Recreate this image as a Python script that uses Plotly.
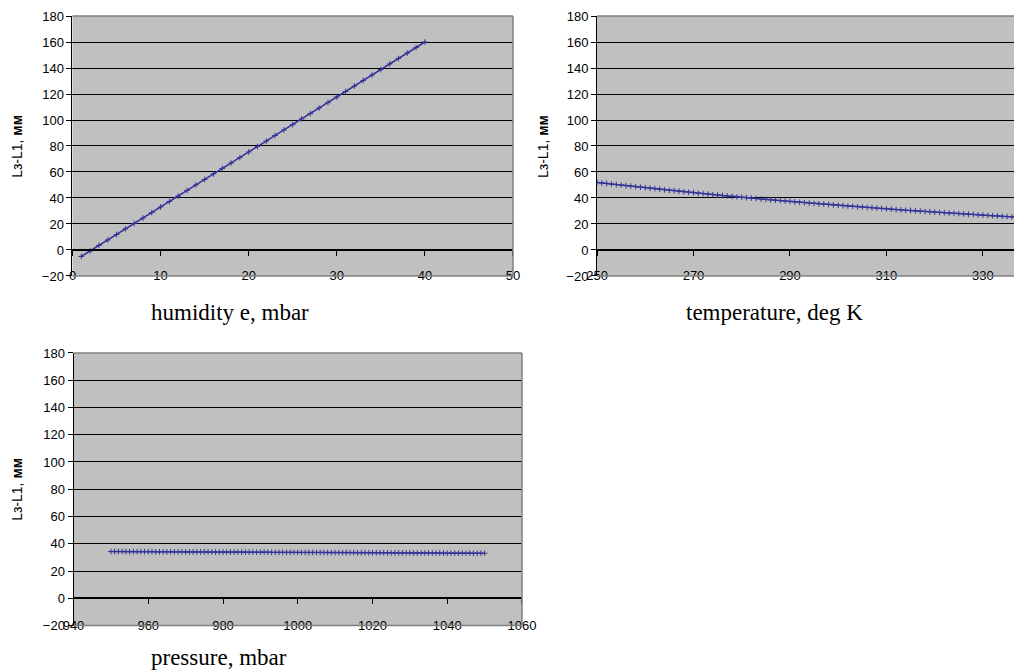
import plotly.graph_objects as go

# ---------------- data ----------------
humidity_e = list(range(1, 41))
humidity_l = [-5.0, -0.8, 3.5, 7.7, 11.9, 16.2, 20.4, 24.6, 28.8, 33.1,
              37.3, 41.5, 45.8, 50.0, 54.2, 58.5, 62.7, 66.9, 71.1, 75.4,
              79.6, 83.8, 88.1, 92.3, 96.5, 100.8, 105.0, 109.2, 113.4, 117.7,
              121.9, 126.1, 130.4, 134.6, 138.8, 143.1, 147.3, 151.5, 155.7, 160.0]

temperature_k = list(range(250, 339))
temperature_l = [52.0, 51.6, 51.2, 50.7, 50.3, 49.9, 49.5, 49.1, 48.7, 48.3,
                 47.9, 47.5, 47.1, 46.7, 46.3, 45.9, 45.6, 45.2, 44.8, 44.4,
                 44.1, 43.7, 43.4, 43.0, 42.6, 42.3, 41.9, 41.6, 41.3, 40.9,
                 40.6, 40.2, 39.9, 39.6, 39.2, 38.9, 38.6, 38.3, 38.0, 37.7,
                 37.4, 37.0, 36.7, 36.4, 36.1, 35.8, 35.5, 35.3, 35.0, 34.7,
                 34.4, 34.1, 33.8, 33.5, 33.3, 33.0, 32.7, 32.5, 32.2, 31.9,
                 31.7, 31.4, 31.1, 30.9, 30.6, 30.4, 30.1, 29.9, 29.6, 29.4,
                 29.1, 28.9, 28.7, 28.4, 28.2, 28.0, 27.7, 27.5, 27.3, 27.0,
                 26.8, 26.6, 26.4, 26.2, 25.9, 25.7, 25.5, 25.3, 25.1]

pressure_mbar = list(range(950, 1051))
pressure_l = [34.3, 34.3, 34.3, 34.3,
              34.2, 34.2, 34.2, 34.2, 34.2, 34.2, 34.2, 34.2,
              34.1, 34.1, 34.1, 34.1, 34.1, 34.1, 34.1, 34.1,
              34.0, 34.0, 34.0, 34.0, 34.0, 34.0, 34.0,
              33.9, 33.9, 33.9, 33.9, 33.9, 33.9, 33.9, 33.9,
              33.8, 33.8, 33.8, 33.8, 33.8, 33.8, 33.8, 33.8,
              33.7, 33.7, 33.7, 33.7, 33.7, 33.7, 33.7, 33.7,
              33.6, 33.6, 33.6, 33.6, 33.6, 33.6, 33.6,
              33.5, 33.5, 33.5, 33.5, 33.5, 33.5, 33.5, 33.5,
              33.4, 33.4, 33.4, 33.4, 33.4, 33.4, 33.4, 33.4,
              33.3, 33.3, 33.3, 33.3, 33.3, 33.3, 33.3,
              33.2, 33.2, 33.2, 33.2, 33.2, 33.2, 33.2, 33.2,
              33.1, 33.1, 33.1, 33.1, 33.1, 33.1, 33.1, 33.1,
              33.0, 33.0, 33.0, 33.0]

y_ticks = [-20, 0, 20, 40, 60, 80, 100, 120, 140, 160, 180]
x_titles = ["humidity e, mbar", "temperature, deg K", "pressure, mbar"]
y_title = "Lз-L1, <b>мм</b>"

# ---------------- styling / layout ----------------
LINE = "#333399"
BG = "#C0C0C0"
BORDER = "#808080"
TICKFONT = dict(family="Liberation Sans, Arial, sans-serif", size=13, color="black")
TITLEFONT = dict(family="Liberation Serif, Times New Roman, serif", size=23, color="black")
YTITLEFONT = dict(family="Liberation Sans, Arial, sans-serif", size=14, color="black")

# the page body has an 8px margin, so the figure is 1014x662 offset by 8px
W, H = 1014, 662

panels = [
    dict(x=humidity_e, y=humidity_l, dx=[0.0636, 0.4980], dy=[0.5952, 0.9879],
         xr=[0, 50], xt=list(range(0, 51, 10)),
         tpos=(0.2189, 0.5393), ypos=(0.0087, 0.7915)),
    dict(x=temperature_k, y=temperature_l, dx=[0.5809, 1.0], dy=[0.5952, 0.9879],
         xr=[250, 338.1], xt=list(range(250, 331, 20)),
         tpos=(0.7564, 0.5393), ypos=(0.5276, 0.7915)),
    dict(x=pressure_mbar, y=pressure_l, dx=[0.0646, 0.5069], dy=[0.0672, 0.4789],
         xr=[940, 1060], xt=list(range(940, 1061, 20)),
         tpos=(0.2081, 0.0196), ypos=(0.0087, 0.2734)),
]


def ax(letter, n):
    return letter if n == 1 else f"{letter}{n}"


def axkey(letter, n):
    return f"{letter}axis" if n == 1 else f"{letter}axis{n}"


fig = go.Figure()
layout = dict(width=W, height=H, autosize=False,
              margin=dict(l=0, r=0, t=0, b=0, pad=0, autoexpand=False),
              paper_bgcolor="white", plot_bgcolor=BG, showlegend=False,
              annotations=[], shapes=[])

for i, p in enumerate(panels, start=1):
    xa, ya = ax("x", i), ax("y", i)
    xo = ax("x", i + 3)
    fig.add_trace(go.Scatter(
        x=p["x"], y=p["y"], mode="lines+markers", xaxis=xa, yaxis=ya,
        line=dict(color=LINE, width=1.5),
        marker=dict(symbol="cross-thin", size=4, line=dict(color=LINE, width=1)),
        hoverinfo="skip"))
    # empty trace so the zero-line axis gets drawn
    fig.add_trace(go.Scatter(x=[], y=[], xaxis=xo, yaxis=ya, hoverinfo="skip"))

    layout[axkey("x", i)] = dict(
        domain=p["dx"], anchor=ya, range=p["xr"], tickvals=p["xt"],
        showgrid=False, zeroline=False, showline=False, ticks="",
        tickfont=TICKFONT, ticklabelstandoff=-10, automargin=False,
        fixedrange=True)
    layout[axkey("y", i)] = dict(
        domain=p["dy"], anchor=xa, range=[-20, 180], tickvals=y_ticks,
        showgrid=True, gridcolor="black", gridwidth=1, zeroline=False,
        showline=True, linecolor="black", linewidth=1,
        ticks="outside", ticklen=5, tickcolor="black", tickwidth=1,
        tickfont=TICKFONT, automargin=False, fixedrange=True)
    zero_pos = p["dy"][0] + (20 / 200) * (p["dy"][1] - p["dy"][0])
    layout[axkey("x", i + 3)] = dict(
        domain=p["dx"], overlaying=xa, anchor="free", position=zero_pos,
        range=p["xr"], tickvals=p["xt"], showticklabels=False,
        showgrid=False, zeroline=False, showline=True, linecolor="black",
        linewidth=1.5, ticks="outside", ticklen=5, tickcolor="black", tickwidth=1,
        automargin=False, fixedrange=True)

    # plot-area border (top, right, bottom) in grey
    for (x0, y0, x1, y1) in [(0, 1, 1, 1), (1, 0, 1, 1), (0, 0, 1, 0)]:
        layout["shapes"].append(dict(
            type="line", xref=f"{xa} domain", yref=f"{ya} domain",
            x0=x0, y0=y0, x1=x1, y1=y1, line=dict(color=BORDER, width=1.5),
            layer="above"))

    layout["annotations"].append(dict(
        text=x_titles[i - 1], xref="paper", yref="paper",
        x=p["tpos"][0], y=p["tpos"][1], xanchor="center", yanchor="middle",
        showarrow=False, font=TITLEFONT))
    layout["annotations"].append(dict(
        text=y_title, xref="paper", yref="paper", textangle=-90,
        x=p["ypos"][0], y=p["ypos"][1], xanchor="center", yanchor="middle",
        showarrow=False, font=YTITLEFONT))

fig.update_layout(**layout)
fig.write_html("out.html")
